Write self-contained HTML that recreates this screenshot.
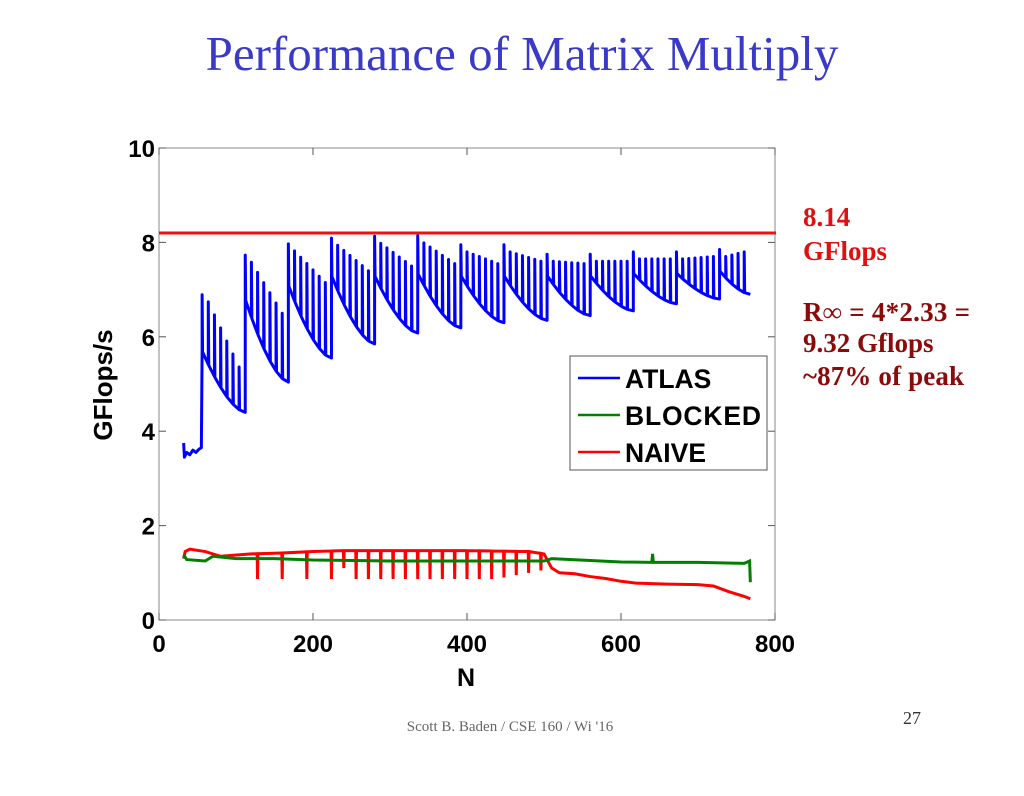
<!DOCTYPE html>
<html><head><meta charset="utf-8"><style>
body{margin:0;background:#fff;width:1024px;height:791px;overflow:hidden;font-family:"Liberation Sans",sans-serif}
</style></head><body>
<svg id="s" width="1024" height="791" xmlns="http://www.w3.org/2000/svg">
<text x="522" y="70" text-anchor="middle" font-family="Liberation Serif,serif" font-size="49" fill="#3a3ac8">Performance of Matrix Multiply</text>
<rect x="159" y="148" width="616" height="472" fill="#fff" stroke="#888" stroke-width="1"/>
<g id="axes"></g>
<g id="series"></g>
<g>
<rect x="570" y="356" width="197" height="114" fill="#fff" stroke="#555" stroke-width="1"/>
<line x1="578" y1="378" x2="620" y2="378" stroke="#0000ff" stroke-width="2.5"/>
<text x="625" y="388" font-weight="bold" font-size="26.5">ATLAS</text>
<line x1="578" y1="415" x2="620" y2="415" stroke="#008000" stroke-width="2.5"/>
<text x="625" y="425" font-weight="bold" font-size="26.5" textLength="136">BLOCKED</text>
<line x1="578" y1="452" x2="620" y2="452" stroke="#ff0000" stroke-width="2.5"/>
<text x="625" y="462" font-weight="bold" font-size="26.5">NAIVE</text>
</g>
<text transform="translate(112,385) rotate(-90)" text-anchor="middle" font-weight="bold" font-size="26">GFlops/s</text>
<text x="466" y="686" text-anchor="middle" font-weight="bold" font-size="25">N</text>
<g font-family="Liberation Serif,serif" font-weight="bold" font-size="27">
<text x="803" y="226" fill="#e01010">8.14</text>
<text x="803" y="260" fill="#e01010">GFlops</text>
<text x="803" y="321" fill="#8b0a0a" textLength="167">R∞ = 4*2.33 =</text>
<text x="803" y="352" fill="#8b0a0a">9.32 Gflops</text>
<text x="803" y="385" fill="#8b0a0a" textLength="161">~87% of peak</text>
</g>
<text x="510" y="731" text-anchor="middle" font-family="Liberation Serif,serif" font-size="15" fill="#666">Scott B. Baden / CSE 160 / Wi '16</text>
<text x="912" y="724" text-anchor="middle" font-family="Liberation Serif,serif" font-size="18" fill="#333">27</text>
</svg>
<script>
// ATLAS blocks
const blockStart=[56,112,168,224,280,336,392,448,504,560,616,672,728];
const blockEnd=[112,168,224,280,336,392,448,504,560,616,672,728,768];
const blockPeak=[6.89,7.73,7.97,8.09,8.13,8.14,7.95,7.95,7.75,7.75,7.8,7.8,7.85];
const blockLastSpike=[5.36,6.5,7.15,7.4,7.5,7.55,7.55,7.6,7.55,7.6,7.65,7.7,7.8];
const blockBaseStart=[5.7,6.8,7.1,7.3,7.3,7.35,7.3,7.3,7.3,7.3,7.35,7.35,7.4];
const blockBaseEnd=[4.4,5.04,5.55,5.85,6.08,6.19,6.3,6.35,6.45,6.55,6.7,6.8,6.9];
const atlasStartN=[32,33,36,40,44,48,52,55];
const atlasStartV=[3.75,3.45,3.55,3.5,3.6,3.55,3.62,3.65];
// BLOCKED
const blockedN=[32,36,60,70,100,150,200,300,400,500,510,600,640,641,642,700,760,767,768];
const blockedV=[1.38,1.28,1.25,1.35,1.3,1.3,1.27,1.25,1.25,1.25,1.3,1.23,1.22,1.4,1.22,1.22,1.2,1.25,0.8];
// NAIVE base
const naiveN=[32,34,40,60,80,120,160,200,240,300,400,480,500,510,520,540,560,580,600,620,660,700,720,740,760,768];
const naiveV=[1.3,1.45,1.5,1.45,1.35,1.4,1.42,1.45,1.47,1.47,1.47,1.45,1.4,1.1,1.0,0.98,0.92,0.88,0.82,0.78,0.76,0.75,0.72,0.6,0.5,0.45];
const naiveDipN=[128,160,192,224,240,256,272,288,304,320,336,352,368,384,400,416,432,448,464,480,496];
const naiveDipV=[0.87,0.87,0.87,0.87,1.1,0.87,0.87,0.87,0.87,0.87,0.87,0.87,0.87,0.87,0.87,0.87,0.87,0.9,0.95,1.0,1.05];
const peakLine=8.2;
const xTicks=[0,200,400,600,800];
const yTicks=[0,2,4,6,8,10];

const X=n=>159+n*616/800, Y=v=>620-v*47.2;
const NS='http://www.w3.org/2000/svg';
function mk(t,a,p){const e=document.createElementNS(NS,t);for(const k in a)e.setAttribute(k,a[k]);p.appendChild(e);return e;}
const ax=document.getElementById('axes'), sr=document.getElementById('series');
xTicks.forEach(t=>{
 const l=mk('line',{x1:X(t),x2:X(t),y1:620,y2:613,stroke:'#555'},ax);
 
 
 const l2=mk('line',{x1:X(t),x2:X(t),y1:148,y2:155,stroke:'#555'},ax);
 
 
 const tx=mk('text',{x:X(t),y:652,'text-anchor':'middle','font-weight':'bold','font-size':24},ax);tx.textContent=t;
 
 
});
yTicks.forEach(t=>{
 const l=mk('line',{x1:159,x2:166,y1:Y(t),y2:Y(t),stroke:'#555'},ax);
 
 
 const l2=mk('line',{x1:768,x2:775,y1:Y(t),y2:Y(t),stroke:'#555'},ax);
 
 
 const tx=mk('text',{x:155,y:Y(t)+9,'text-anchor':'end','font-weight':'bold','font-size':24},ax);tx.textContent=t;
 
 
});
// naive
let pts=[];let di=0;
for(let i=0;i<naiveN.length-1;i++){
 pts.push([naiveN[i],naiveV[i]]);
 while(di<naiveDipN.length&&naiveDipN[di]<naiveN[i+1]){
  const n=naiveDipN[di];const f=(n-naiveN[i])/(naiveN[i+1]-naiveN[i]);const b=naiveV[i]+f*(naiveV[i+1]-naiveV[i]);
  pts.push([n-0.5,b],[n,naiveDipV[di]],[n+0.5,b]);di++;
 }
}
pts.push([naiveN[naiveN.length-1],naiveV[naiveV.length-1]]);
const nv=mk('polyline',{points:pts.map(p=>X(p[0])+','+Y(p[1])).join(' '),fill:'none',stroke:'#ff0000','stroke-width':3},sr);


const bl=mk('polyline',{points:blockedN.map((n,i)=>X(n)+','+Y(blockedV[i])).join(' '),fill:'none',stroke:'#008000','stroke-width':3},sr);


// atlas
let ap=atlasStartN.map((n,i)=>[n,atlasStartV[i]]);
blockStart.forEach((s,b)=>{
 const e=blockEnd[b];const cnt=Math.round((e-s)/8);
 const base=n=>{const t=(n-s)/(e-s);return blockBaseEnd[b]+(blockBaseStart[b]-blockBaseEnd[b])*Math.pow(1-t,1.6);};
 ap.push([s,base(s)],[s,blockPeak[b]],[s+0.6,base(s+0.6)]);
 for(let k=1;k<cnt;k++){
  const n=s+8*k;const sp=blockPeak[b]-0.15-(blockPeak[b]-0.15-blockLastSpike[b])*(k-1)/Math.max(1,cnt-2);
  ap.push([n,base(n)],[n,sp],[n+0.6,base(n+0.6)]);
 }
 ap.push([e,base(e)]);
});
const at=mk('polyline',{points:ap.map(p=>X(p[0])+','+Y(p[1])).join(' '),fill:'none',stroke:'#0000ff','stroke-width':3,'stroke-linejoin':'round'},sr);


const pl=mk('line',{x1:159,x2:776,y1:Y(peakLine),y2:Y(peakLine),stroke:'#ee1111','stroke-width':3},sr);


</script>
</body></html>
